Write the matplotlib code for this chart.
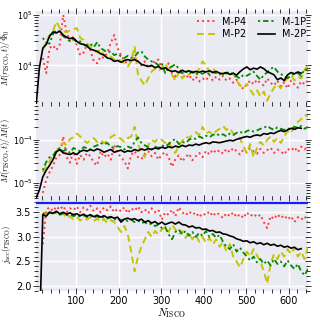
import numpy as np
import matplotlib
matplotlib.use("Agg")
import matplotlib.pyplot as plt
from matplotlib.ticker import MultipleLocator, LogLocator, NullFormatter

# ---------------- data ----------------
N_grid = [5, 13, 21, 29, 37, 45, 53, 61, 69, 77, 85, 93, 101, 109, 117, 125, 133, 141, 149, 157,
          165, 173, 181, 189, 197, 205, 213, 221, 229, 237, 245, 253, 261, 269, 277, 285, 293, 301,
          309, 317, 325, 333, 341, 349, 357, 365, 373, 381, 389, 397, 405, 413, 421, 429, 437, 445,
          453, 461, 469, 477, 485, 493, 501, 509, 517, 525, 533, 541, 549, 557, 565, 573, 581, 589,
          597, 605, 613, 621, 629, 637, 645]

labels = ["M-P4", "M-P2", "M-1P", "M-2P"]
start_idx = {"M-P4": 2, "M-P2": 2, "M-1P": 2, "M-2P": 0}

# Panel 1: flux-normalised rate, in units of 1e3
flux_unit = 1e3
flux_P4 = [14, 7, 22, 25, 20, 26, 100, 45, 30, 38, 25, 16, 18, 26, 20, 12, 11, 15, 14, 18, 28, 40,
           22, 16, 12, 11, 12.5, 14, 12, 10, 12, 9, 10, 12.5, 13, 9, 8, 11, 7, 6, 8, 6.5, 5.5, 6.5, 5,
           6, 4.8, 5.5, 5, 6.5, 5, 6, 5.2, 6.2, 5, 5.5, 4.5, 5.2, 4, 3.4, 4.2, 5, 4.2, 5.2, 4.4, 4,
           5.5, 4.5, 4, 5, 3.8, 4.6, 3.5, 5, 4.2, 3.6, 4.8, 4.2, 5]
flux_P2 = [20, 30, 40, 48, 74, 55, 48, 45, 50, 52, 55, 35, 32, 27, 24, 20, 18, 21, 16, 14, 15, 13,
           14, 12, 11, 9.5, 12, 24, 6.5, 5, 4, 5.5, 7.5, 8.5, 7.5, 9, 11, 8, 6.5, 5.0, 7.5, 5.5, 7,
           6.5, 8, 7, 8.5, 12, 10, 7.5, 9, 7, 7.5, 6.8, 7.2, 6.5, 7, 5, 4, 3.5, 4.3, 3.3, 2.6, 3.2,
           2.4, 3.0, 2.0, 2.8, 3.6, 4.2, 3.5, 4.8, 5.5, 6.5, 5.0, 6.0, 5.5, 8.0, 10]
flux_1P = [35, 28, 27, 42, 50, 46, 38, 34, 30, 33, 29, 30, 26, 25, 27, 23, 29, 22, 20, 18, 19, 16,
           17, 15, 14, 15.5, 14, 15, 18, 19, 15, 13, 12, 11.5, 10, 11, 7, 9, 9.5, 10.5, 8.5, 7, 7.8,
           6.8, 7.5, 6.5, 7.2, 6.8, 7.5, 6.6, 7.4, 7.0, 6.6, 7.2, 6.9, 7.5, 6.3, 6.0, 5.5, 6.5, 6.2,
           6.8, 7.5, 6.2, 5.2, 6.5, 7.2, 8.5, 9.3, 7.5, 6.8, 6.0, 5.6, 6.2, 6.8, 7.0, 6.2, 8.5, 7.8]
flux_2P = [1.5, 9, 22, 26, 38, 46, 44, 48, 40, 36, 34, 35, 30, 27, 26, 24, 21, 20, 19, 17, 16, 14,
           13.5, 12, 12.5, 11.5, 12.5, 13, 12.5, 13, 12, 10.5, 10, 9.5, 10, 9, 9.5, 8.5, 9, 8, 7.6,
           7.8, 7.2, 8, 7.4, 7.8, 7.2, 7.6, 7.3, 7.7, 7.4, 7.8, 7.2, 7.6, 7, 6.8, 7.2, 6.6, 7, 6.4,
           7.5, 8.5, 9.3, 8.2, 8.8, 8.4, 9.3, 8.6, 7.5, 7, 6.5, 5.2, 5.6, 5.0, 6.5, 7.2, 6.8, 7.4, 7.0]

# Panel 2: mass-normalised rate, in units of 1e-5
mass_unit = 1e-5
mass_P4 = [0.6, 1.2, 1.8, 2.5, 4.0, 4.5, 12, 4.0, 3.0, 5.5, 2.8, 4.5, 3.5, 5.0, 4.2, 3.0, 2.6, 5.5,
           4.0, 4.8, 3.5, 7.5, 5.0, 4.0, 3.2, 2.2, 4.5, 5.5, 4.0, 3.6, 4.8, 5.5, 4.2, 5.0, 3.5, 4.6,
           5.2, 4.0, 2.4, 3.6, 4.4, 3.2, 4.0, 4.8, 3.4, 4.2, 5.0, 4.0, 5.6, 4.6, 6.0, 5.0, 5.8, 4.8,
           6.2, 5.2, 6.5, 5.5, 4.6, 6.0, 5.2, 6.4, 5.4, 4.8, 6.2, 5.0, 5.8, 6.6, 5.0, 6.0, 5.4, 4.6,
           6.2, 5.6, 6.8, 5.2, 7.0, 6.0, 7.5]
mass_P2 = [1.8, 2.5, 3.2, 4.5, 5.5, 7.5, 8.5, 7.5, 10.5, 11.5, 14, 12, 10, 8.5, 10, 11, 9, 10, 8.5,
           9.5, 11.5, 13, 12, 10.5, 9, 11, 12, 20, 8, 5, 4, 7.5, 10, 9, 11, 10, 8.5, 9.5, 6, 5, 7.5,
           9.5, 12, 11, 13, 15, 13, 20, 14, 15.5, 13, 16, 18, 21, 17, 19, 14, 12, 11, 7, 5, 8, 4,
           6.5, 9, 7.5, 10, 12, 9, 11, 8.5, 12, 16, 14, 22, 26, 30, 38, 34]
mass_1P = [2.0, 3.1, 4.0, 4.4, 5.5, 6.5, 5.5, 6.0, 5.0, 6.5, 6.0, 5.5, 6.8, 6.5, 6.0, 7.0, 7.5, 8.5,
           7.8, 8.5, 7.0, 6.5, 7.2, 6.8, 6.0, 7.0, 6.5, 9.0, 11.5, 8.5, 7.5, 6.8, 6.0, 7.0, 6.5, 7.5,
           7.0, 8.0, 9.5, 10.5, 8.0, 9.0, 8.5, 10.0, 11.0, 10.5, 12.0, 11.0, 12.5, 11.5, 13.0, 14.0,
           12.5, 13.5, 12.0, 14.0, 13.0, 14.5, 15.5, 14.0, 16.0, 17.0, 15.5, 16.5, 18.0, 19.0, 21.0,
           18.5, 17.0, 19.5, 18.0, 17.0, 18.5, 17.5, 20.0, 19.0, 21.0, 18.0, 20.0]
mass_2P = [0.45, 0.7, 1.4, 2.0, 2.6, 3.5, 5.3, 6.0, 5.0, 4.8, 4.6, 5.0, 4.6, 5.4, 5.8, 5.5, 6.0, 5.6,
           6.2, 5.8, 5.2, 5.6, 6.0, 5.2, 5.5, 5.8, 5.2, 5.6, 5.4, 6.0, 5.6, 6.2, 5.8, 6.3, 6.0, 6.5,
           6.2, 6.8, 6.4, 7.0, 6.6, 7.2, 6.8, 7.5, 7.0, 7.6, 7.4, 8.0, 7.6, 8.2, 8.6, 8.2, 9.0, 8.8,
           8.6, 9.0, 9.4, 9.8, 9.5, 10.3, 10.8, 11.5, 12.0, 11.5, 12.5, 13.0, 12.5, 14.0, 13.5, 14.5,
           14.0, 15.5, 16.5, 15.5, 17.0, 18.5, 17.5, 19.0, 18.5]

# Panel 3: specific angular momentum
j_P4 = [2.85, 3.55, 3.6, 3.52, 3.62, 3.55, 3.63, 3.5, 3.58, 3.54, 3.62, 3.5, 3.6, 3.55, 3.63, 3.52,
        3.58, 3.5, 3.6, 3.54, 3.62, 3.5, 3.57, 3.52, 3.6, 3.48, 3.58, 3.53, 3.62, 3.5, 3.56, 3.48,
        3.58, 3.5, 3.55, 3.35, 3.5, 3.45, 3.55, 3.42, 3.6, 3.5, 3.44, 3.52, 3.45, 3.5, 3.4, 3.48,
        3.44, 3.52, 3.42, 3.5, 3.45, 3.38, 3.48, 3.42, 3.5, 3.4, 3.46, 3.38, 3.5, 3.42, 3.47, 3.4,
        3.45, 3.3, 3.18, 3.42, 3.36, 3.46, 3.38, 3.44, 3.35, 3.42, 3.3, 3.4, 3.35, 3.42, 3.3]
j_P2 = [3.5, 3.45, 3.52, 3.47, 3.5, 3.44, 3.48, 3.38, 3.42, 3.35, 3.4, 3.33, 3.38, 3.35, 3.4, 3.32,
        3.37, 3.3, 3.36, 3.28, 3.34, 3.3, 3.2, 3.1, 3.22, 3.05, 2.7, 2.3, 2.6, 2.8, 2.95, 3.1, 3.0,
        3.12, 3.05, 3.15, 3.2, 3.1, 3.25, 3.15, 3.05, 3.12, 2.98, 3.08, 2.95, 3.05, 2.9, 3.0, 2.88,
        2.98, 2.85, 2.95, 2.8, 2.9, 2.7, 2.85, 2.6, 2.5, 2.38, 2.55, 2.7, 2.6, 2.75, 2.62, 2.5, 2.3,
        2.05, 2.45, 2.65, 2.55, 2.7, 2.6, 2.75, 2.65, 2.78, 2.6, 2.7, 2.55, 2.8]
j_1P = [3.48, 3.45, 3.5, 3.47, 3.5, 3.45, 3.48, 3.44, 3.46, 3.42, 3.45, 3.41, 3.44, 3.4, 3.43, 3.39,
        3.42, 3.38, 3.4, 3.37, 3.4, 3.35, 3.38, 3.34, 3.36, 3.32, 3.35, 3.3, 3.33, 3.28, 3.3, 3.25,
        3.27, 3.22, 3.25, 3.18, 3.2, 3.05, 2.95, 3.1, 3.15, 3.05, 3.12, 3.02, 3.1, 3.0, 3.08, 3.02,
        3.12, 3.0, 3.06, 2.98, 3.04, 2.9, 2.8, 2.75, 2.85, 2.7, 2.78, 2.68, 2.6, 2.52, 2.6, 2.48,
        2.55, 2.45, 2.52, 2.42, 2.55, 2.45, 2.5, 2.4, 2.52, 2.42, 2.35, 2.45, 2.3, 2.22, 2.35]
j_2P = [1.0, 1.0, 3.45, 3.42, 3.5, 3.48, 3.52, 3.47, 3.5, 3.46, 3.49, 3.45, 3.47, 3.43, 3.46, 3.42,
        3.45, 3.41, 3.44, 3.4, 3.43, 3.39, 3.41, 3.38, 3.4, 3.3, 3.36, 3.38, 3.35, 3.37, 3.33, 3.36,
        3.3, 3.33, 3.28, 3.31, 3.26, 3.3, 3.25, 3.28, 3.3, 3.26, 3.3, 3.25, 3.24, 3.2, 3.22, 3.18,
        3.19, 3.15, 3.16, 3.12, 3.13, 3.09, 3.1, 3.06, 3.05, 3.02, 3.0, 2.96, 2.94, 2.91, 2.92,
        2.88, 2.9, 2.86, 2.88, 2.84, 2.87, 2.83, 2.85, 2.81, 2.83, 2.79, 2.81, 2.77, 2.79, 2.74, 2.76]
j_ref = 3.68

panel1 = {"M-P4": flux_P4, "M-P2": flux_P2, "M-1P": flux_1P, "M-2P": flux_2P}
panel2 = {"M-P4": mass_P4, "M-P2": mass_P2, "M-1P": mass_1P, "M-2P": mass_2P}
panel3 = {"M-P4": j_P4, "M-P2": j_P2, "M-1P": j_1P, "M-2P": j_2P}

styles = {
    "M-P4": dict(color="#ff3b3b", ls=":", lw=1.4),
    "M-P2": dict(color="#c4c400", ls=(0, (3.5, 2.2)), lw=1.4),
    "M-1P": dict(color="#008a00", ls=(0, (1.2, 1.6, 3, 1.6)), lw=1.3),
    "M-2P": dict(color="black", ls="-", lw=1.2),
}

# ---------------- style ----------------
plt.rcParams.update({
    "font.family": ["DejaVu Sans"],
    "mathtext.fontset": "cm",
    "axes.facecolor": "#eaeaf2",
    "axes.edgecolor": "white",
    "axes.linewidth": 0.0,
    "grid.color": "white",
    "grid.linewidth": 1.0,
    "xtick.labelsize": 7,
    "ytick.labelsize": 7,
})

fig = plt.figure(figsize=(3.2, 3.2), dpi=100)
L, W = 36 / 320, 272 / 320
ax1 = fig.add_axes([L, 1 - 103.5 / 320, W, 92.5 / 320])
ax2 = fig.add_axes([L, 1 - 197.5 / 320, W, 94 / 320])
ax3 = fig.add_axes([L, 1 - 291 / 320, W, 93.5 / 320])
axes = [ax1, ax2, ax3]

for name in labels:
    s = start_idx[name]
    x1 = N_grid[s:s + len(panel1[name])]
    ax1.plot(x1, np.array(panel1[name]) * flux_unit, label=name, **styles[name])
    x2 = N_grid[s:s + len(panel2[name])]
    ax2.plot(x2, np.array(panel2[name]) * mass_unit, **styles[name])
    x3 = N_grid[s:s + len(panel3[name])]
    ax3.plot(x3, panel3[name], **styles[name])

ax3.axhline(j_ref, color="#1a1aff", lw=1.6)

for ax in axes:
    ax.set_xlim(5, 645)
    ax.grid(True, which="major")
    ax.set_axisbelow(True)
    ax.xaxis.set_major_locator(MultipleLocator(100))
    ax.xaxis.set_minor_locator(MultipleLocator(20))
    ax.tick_params(which="both", direction="inout", top=True, right=True,
                   color="#333333", width=0.7)
    ax.tick_params(which="major", length=4, pad=1.5)
    ax.tick_params(which="minor", length=2.5)
    for sp in ax.spines.values():
        sp.set_visible(False)

ax1.set_yscale("log")
ax1.set_ylim(1.75e3, 1.2e5)
ax2.set_yscale("log")
ax2.set_ylim(4.7e-6, 6.9e-4)
for ax in (ax1, ax2):
    ax.yaxis.set_major_locator(LogLocator(base=10, numticks=10))
    ax.yaxis.set_minor_locator(LogLocator(base=10, subs=np.arange(2, 10), numticks=10))
    ax.yaxis.set_minor_formatter(NullFormatter())
    ax.tick_params(axis="y", which="major", labelsize=5.7, pad=0.5)
ax1.tick_params(labelbottom=False)
ax2.tick_params(labelbottom=False)

ax3.set_ylim(1.9, 3.8)
ax3.yaxis.set_major_locator(MultipleLocator(0.5))
ax3.yaxis.set_minor_locator(MultipleLocator(0.1))
ax3.yaxis.set_major_formatter(matplotlib.ticker.FormatStrFormatter("%.1f"))

ax1.set_ylabel(r"$\dot{M}(r_{\rm ISCO},t)/\Phi_0$", fontsize=6.2)
ax2.set_ylabel(r"$\dot{M}(r_{\rm ISCO},t)/M(t)$", fontsize=6.2)
ax3.set_ylabel(r"$j_{\rm acc}(r_{\rm ISCO})$", fontsize=6.2)
for ax in axes:
    ax.yaxis.set_label_coords(-0.086, 0.5)
ax3.set_xlabel(r"$N_{\rm ISCO}$", fontsize=8, labelpad=0)

handles, labs = ax1.get_legend_handles_labels()
ax1.legend(handles, labs, ncol=2, loc="upper right", bbox_to_anchor=(1.015, 1.0),
           frameon=False, fontsize=7, handlelength=1.8, columnspacing=1.2,
           handletextpad=0.7, labelspacing=0.25, borderaxespad=0.2)

fig.savefig("out.png", dpi=100)
